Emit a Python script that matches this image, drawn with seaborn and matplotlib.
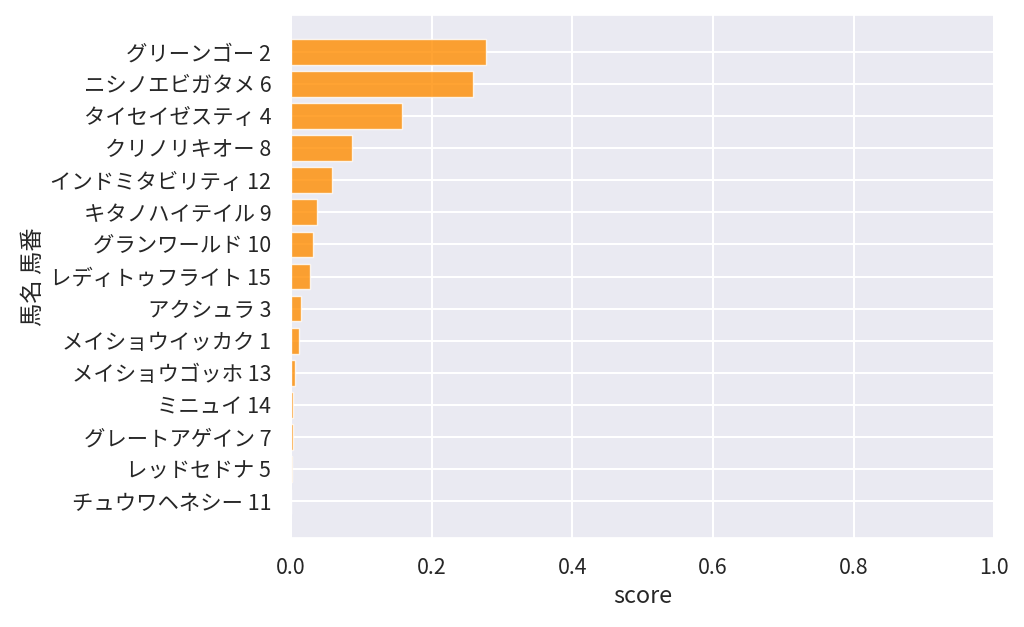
import matplotlib
matplotlib.use('Agg')
import matplotlib.pyplot as plt
import seaborn as sns
import pandas as pd

# horse names + numbers and their score
horses = ['グリーンゴー 2', 'ニシノエビガタメ 6', 'タイセイゼスティ 4', 'クリノリキオー 8',
          'インドミタビリティ 12', 'キタノハイテイル 9', 'グランワールド 10', 'レディトゥフライト 15',
          'アクシュラ 3', 'メイショウイッカク 1', 'メイショウゴッホ 13', 'ミニュイ 14',
          'グレートアゲイン 7', 'レッドセドナ 5', 'チュウワヘネシー 11']
scores = [0.277, 0.259, 0.158, 0.087, 0.058, 0.037, 0.031, 0.027,
          0.014, 0.012, 0.006, 0.003, 0.003, 0.001, 0.0002]

df = pd.DataFrame({'馬名 馬番': horses, 'score': scores})

sns.set_theme(style='darkgrid', font_scale=1.4)
plt.rcParams['font.family'] = ['Noto Sans CJK JP', 'DejaVu Sans']

fig, ax = plt.subplots(figsize=(10.24, 6.27), dpi=100)
sns.barplot(data=df, x='score', y='馬名 馬番', color='darkorange', alpha=0.8,
            saturation=1, width=0.8, edgecolor='white', linewidth=1, ax=ax)
ax.set_xlim(0, 1.0)
ax.set_ylim(len(horses) - 1 + 1.14, -1.14)
ax.grid(True, axis='both', linewidth=1.5)
ax.set_axisbelow(True)
ax.tick_params(axis='both', pad=8)
ax.set_xlabel('score')
ax.set_ylabel('馬名 馬番')

fig.subplots_adjust(left=0.284, right=0.971, top=0.976, bottom=0.142)
fig.savefig('out.png', dpi=100)
